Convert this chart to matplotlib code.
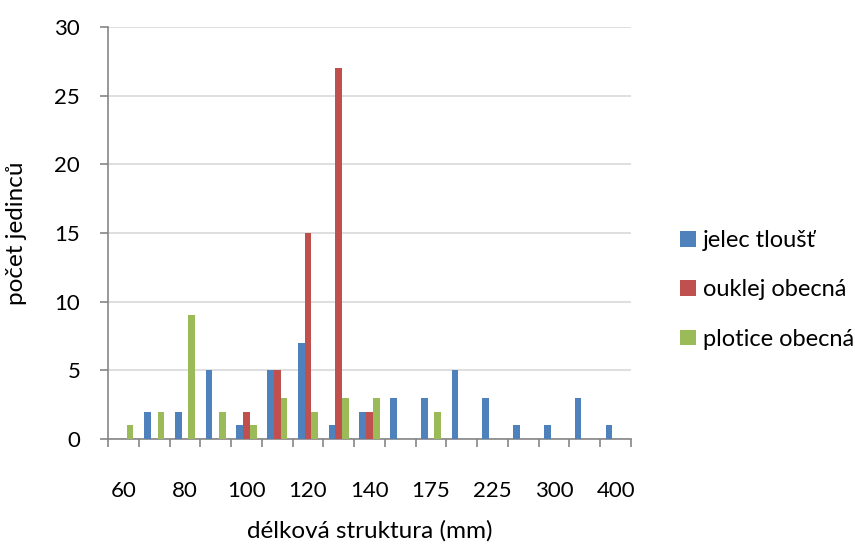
import numpy as np
import matplotlib.pyplot as plt

plt.rcParams['font.family'] = ['Lato', 'DejaVu Sans']

# length classes (mm); Excel shows only every other label
categories = ['60', '70', '80', '90', '100', '110', '120', '130', '140', '150',
              '175', '200', '225', '250', '300', '350', '400']
jelec = [0, 2, 2, 5, 1, 5, 7, 1, 2, 3, 3, 5, 3, 1, 1, 3, 1]
ouklej = [0, 0, 0, 0, 2, 5, 15, 27, 2, 0, 0, 0, 0, 0, 0, 0, 0]
plotice = [1, 2, 9, 2, 1, 3, 2, 3, 3, 0, 2, 0, 0, 0, 0, 0, 0]
series = ['jelec tloušť', 'ouklej obecná', 'plotice obecná']
colors = ['#4F81BD', '#C0504D', '#9BBB59']

fig = plt.figure(figsize=(8.55, 5.45), dpi=100)
ax = fig.add_axes([108/855, 106/545, 523/855, 412/545])

x = np.arange(len(categories))
w = 0.218
for i, (vals, name, col) in enumerate(zip([jelec, ouklej, plotice], series, colors)):
    ax.bar(x + (i - 1)*w, vals, width=w, color=col, label=name, zorder=3)

ax.set_xlim(-0.5, len(categories) - 0.5)
ax.set_ylim(0, 30)
ax.set_yticks(range(0, 31, 5))
ax.yaxis.grid(True, color='#d9d9d9', linewidth=1.2, zorder=0)

# category boundary ticks, labels on every second category
ax.set_xticks(np.arange(-0.5, len(categories)), minor=False)
ax.set_xticklabels([])
ax.set_xticks(x[::2], minor=True)
ax.set_xticklabels(categories[::2], minor=True)
ax.tick_params(axis='x', which='major', length=6, color='#868686', width=1.2)
ax.tick_params(axis='x', which='minor', length=0, pad=30, labelsize=16)
ax.tick_params(axis='y', length=6, color='#868686', width=1.2, pad=14, labelsize=16)

for s in ['top', 'right']:
    ax.spines[s].set_visible(False)
for s in ['left', 'bottom']:
    ax.spines[s].set_color('#868686')
    ax.spines[s].set_linewidth(1.2)

ax.set_xlabel('délková struktura (mm)', fontsize=17.5, labelpad=14)
ax.set_ylabel('počet jedinců', fontsize=17.5, labelpad=20)

fig.legend(loc='center left', bbox_to_anchor=(671/855, 1 - 290/545), frameon=False,
           fontsize=17, handlelength=0.65, handleheight=0.65, handletextpad=0.3,
           labelspacing=1.2, borderaxespad=0)

plt.savefig('out.png', dpi=100)
